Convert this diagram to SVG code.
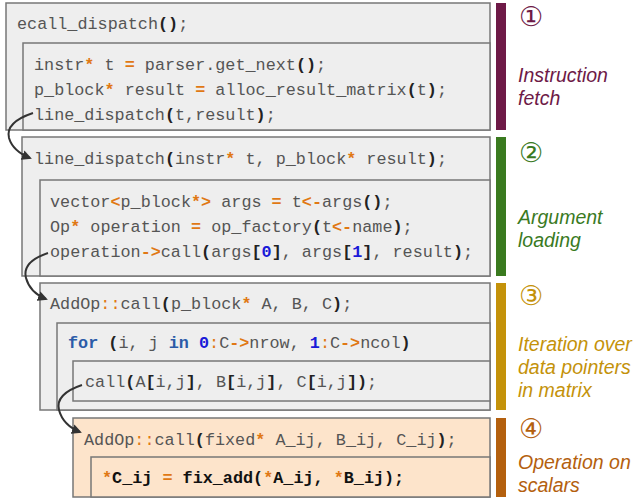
<svg xmlns="http://www.w3.org/2000/svg" width="634" height="499" viewBox="0 0 634 499">
<style>
.box{fill:#eeeeee;stroke:#777777;stroke-width:1.5}
.pbox{fill:#fde4cb;stroke:#777777;stroke-width:1.5}
.c{font-family:"Liberation Mono","Courier New",monospace;font-size:16.8px;fill:#555555;white-space:pre}
.p{font-weight:bold;fill:#222222}
.o{font-weight:bold;fill:#e07814}
.ol{fill:#e07814}
.k{font-weight:bold;fill:#2b5ba8}
.n{font-weight:bold;fill:#1a1ad8}
.b{font-weight:bold;fill:#111111}
.lab{font-family:"Liberation Sans",Arial,sans-serif;font-size:19.5px;font-style:italic}
.num{font-family:"DejaVu Sans","Noto Sans CJK SC",sans-serif;font-size:27px;text-anchor:middle}
.conn{fill:none;stroke:#333333;stroke-width:2}
</style>
<defs>
<marker id="ah" viewBox="0 0 10 10" refX="8" refY="5" markerWidth="5" markerHeight="5" orient="auto" markerUnits="strokeWidth">
<path d="M0,0 L10,5 L0,10 z" fill="#333333"/>
</marker>
</defs>

<g id="stage1">
<rect class="box" x="6" y="3" width="484" height="127"/>
<text class="c" x="17" y="29">ecall_dispatch<tspan class="p">()</tspan>;</text>
<rect class="box" x="23" y="43" width="467" height="87"/>
<text class="c" x="34" y="70">instr<tspan class="o">*</tspan> t <tspan class="o">=</tspan> parser.get_next<tspan class="p">()</tspan>;</text>
<text class="c" x="34" y="95">p_block<tspan class="o">*</tspan> result <tspan class="o">=</tspan> alloc_result_matrix<tspan class="p">(</tspan>t<tspan class="p">)</tspan>;</text>
<text class="c" x="34" y="120">line_dispatch<tspan class="p">(</tspan>t,result<tspan class="p">)</tspan>;</text>
</g>

<g id="stage2">
<rect class="box" x="22" y="137" width="468" height="139"/>
<text class="c" x="34" y="164">line_dispatch<tspan class="p">(</tspan>instr<tspan class="o">*</tspan> t, p_block<tspan class="o">*</tspan> result<tspan class="p">)</tspan>;</text>
<rect class="box" x="40" y="180" width="450" height="96"/>
<text class="c" x="50" y="207">vector<tspan class="o">&lt;</tspan>p_block<tspan class="o">*&gt;</tspan> args <tspan class="o">=</tspan> t<tspan class="o">&lt;-</tspan>args<tspan class="p">()</tspan>;</text>
<text class="c" x="50" y="232">Op<tspan class="o">*</tspan> operation <tspan class="o">=</tspan> op_factory<tspan class="p">(</tspan>t<tspan class="o">&lt;-</tspan>name<tspan class="p">)</tspan>;</text>
<text class="c" x="50" y="257">operation<tspan class="o">-&gt;</tspan>call<tspan class="p">(</tspan>args<tspan class="p">[</tspan><tspan class="n">0</tspan><tspan class="p">]</tspan>, args<tspan class="p">[</tspan><tspan class="n">1</tspan><tspan class="p">]</tspan>, result<tspan class="p">)</tspan>;</text>
</g>

<g id="stage3">
<rect class="box" x="40" y="283" width="450" height="127"/>
<text class="c" x="50" y="309">AddOp<tspan class="ol">::</tspan>call<tspan class="p">(</tspan>p_block<tspan class="o">*</tspan> A, B, C<tspan class="p">)</tspan>;</text>
<rect class="box" x="57" y="323" width="433" height="87"/>
<text class="c" x="68" y="348"><tspan class="k">for</tspan> <tspan class="p">(</tspan>i, j <tspan class="k">in</tspan> <tspan class="n">0</tspan><tspan class="ol">:</tspan>C<tspan class="o">-&gt;</tspan>nrow, <tspan class="n">1</tspan><tspan class="ol">:</tspan>C<tspan class="o">-&gt;</tspan>ncol<tspan class="p">)</tspan></text>
<rect class="box" x="73" y="361" width="417" height="40"/>
<text class="c" x="85" y="387">call<tspan class="p">(</tspan>A<tspan class="p">[</tspan>i,j<tspan class="p">]</tspan>, B<tspan class="p">[</tspan>i,j<tspan class="p">]</tspan>, C<tspan class="p">[</tspan>i,j<tspan class="p">])</tspan>;</text>
</g>

<g id="stage4">
<rect class="pbox" x="73" y="418" width="417" height="79"/>
<text class="c" x="84" y="445">AddOp<tspan class="ol">::</tspan>call<tspan class="p">(</tspan>fixed<tspan class="o">*</tspan> A_ij, B_ij, C_ij<tspan class="p">)</tspan>;</text>
<rect class="pbox" x="91" y="457" width="399" height="40"/>
<text class="c" x="102" y="483"><tspan class="o">*</tspan><tspan class="b">C_ij </tspan><tspan class="o">=</tspan><tspan class="b"> fix_add(</tspan><tspan class="o">*</tspan><tspan class="b">A_ij, </tspan><tspan class="o">*</tspan><tspan class="b">B_ij);</tspan></text>
</g>

<g id="label1">
<rect x="496" y="3" width="10" height="127" fill="#6e1a47"/>
<text class="num" x="531" y="26" fill="#6e1a47">①</text>
<text class="lab" x="518" y="82" fill="#6e1a47">Instruction</text>
<text class="lab" x="518" y="105" fill="#6e1a47">fetch</text>
</g>
<g id="label2">
<rect x="496" y="137" width="10" height="139" fill="#3a7a1f"/>
<text class="num" x="531" y="162" fill="#3a7a1f">②</text>
<text class="lab" x="518" y="224" fill="#3a7a1f">Argument</text>
<text class="lab" x="518" y="247" fill="#3a7a1f">loading</text>
</g>
<g id="label3">
<rect x="496" y="283" width="10" height="127" fill="#c4920a"/>
<text class="num" x="531" y="305" fill="#c4920a">③</text>
<text class="lab" x="518" y="351" fill="#c4920a">Iteration over</text>
<text class="lab" x="518" y="374" fill="#c4920a">data pointers</text>
<text class="lab" x="518" y="397" fill="#c4920a">in matrix</text>
</g>
<g id="label4">
<rect x="496" y="418" width="10" height="79" fill="#b4600e"/>
<text class="num" x="531" y="438" fill="#b4600e">④</text>
<text class="lab" x="518" y="469" fill="#b4600e">Operation on</text>
<text class="lab" x="518" y="492" fill="#b4600e">scalars</text>
</g>

<g id="connectors">
<path class="conn" marker-end="url(#ah)" d="M33,113 C18,118 6,126 9,138 C12,148 20,154 30,158"/>
<path class="conn" marker-end="url(#ah)" d="M48,253 C33,258 23,266 26,278 C29,289 36,295 46,299"/>
<path class="conn" marker-end="url(#ah)" d="M82,385 C67,390 56,398 59,410 C62,421 70,428 80,432"/>
</g>
</svg>
